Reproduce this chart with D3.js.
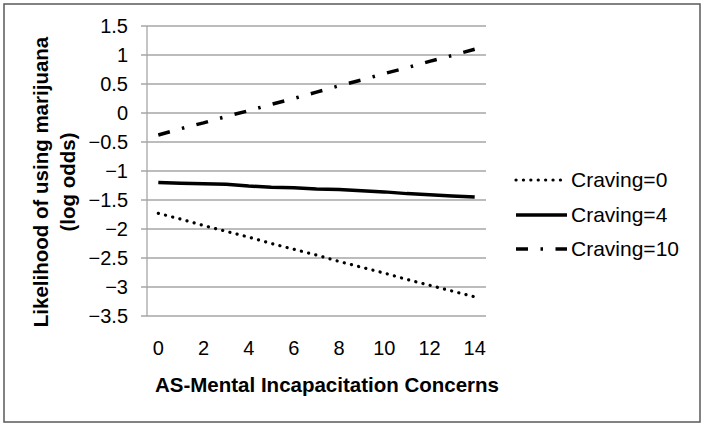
<!DOCTYPE html>
<html><head><meta charset="utf-8">
<script src="https://cdn.jsdelivr.net/npm/d3@7"></script>
<style>
html,body{margin:0;padding:0;background:#fff;}
svg text{font-family:"Liberation Sans",Arial,sans-serif;fill:#000;}
</style></head>
<body><svg id="c" width="705" height="427"></svg>
<script>
const xCategories = [0,1,2,3,4,5,6,7,8,9,10,11,12,13,14];
const xTickLabels = [0,2,4,6,8,10,12,14];
const yTicks = [1.5,1,0.5,0,-0.5,-1,-1.5,-2,-2.5,-3,-3.5];
const seriesNames = ["Craving=0","Craving=4","Craving=10"];
const craving0 = [-1.73,-1.83,-1.94,-2.04,-2.14,-2.25,-2.35,-2.45,-2.56,-2.66,-2.76,-2.87,-2.97,-3.07,-3.17];
const craving4 = [-1.20,-1.21,-1.22,-1.23,-1.26,-1.28,-1.29,-1.31,-1.32,-1.34,-1.36,-1.39,-1.41,-1.43,-1.45];
const craving10 = [-0.38,-0.27,-0.17,-0.06,0.04,0.15,0.25,0.36,0.47,0.57,0.68,0.78,0.89,0.99,1.10];
const xTitle = "AS-Mental Incapacitation Concerns";
const yTitle = ["Likelihood of using marijuana","(log odds)"];

const svg = d3.select("#c");
const L = 147, R = 486, T = 26, B = 316;

svg.append("rect").attr("x",4).attr("y",4).attr("width",696).attr("height",418)
  .attr("fill","#fff").attr("stroke","#595959").attr("stroke-width",1.5);

const x = d3.scalePoint().domain(xCategories).range([L,R]).padding(0.5);
const y = d3.scaleLinear().domain([-3.5,1.5]).range([B,T]);

// gridlines
svg.append("g").selectAll("line").data(yTicks).join("line")
  .attr("x1",L-6).attr("x2",R).attr("y1",d=>y(d)).attr("y2",d=>y(d))
  .attr("stroke","#a6a6a6").attr("stroke-width",1.3);
// y axis line
svg.append("line").attr("x1",L).attr("x2",L).attr("y1",T).attr("y2",B)
  .attr("stroke","#a6a6a6").attr("stroke-width",1.3);

// y tick labels
svg.append("g").selectAll("text").data(yTicks).join("text")
  .attr("x",128).attr("y",d=>y(d)).attr("dy","0.35em").attr("text-anchor","end")
  .attr("font-size",20).text(d=>d3.format("")(d));

// x tick labels
svg.append("g").selectAll("text").data(xTickLabels).join("text")
  .attr("x",d=>x(d)).attr("y",355).attr("text-anchor","middle")
  .attr("font-size",20).text(d=>d);

// titles
svg.append("text").attr("x",327).attr("y",392).attr("text-anchor","middle")
  .attr("font-size",20.5).attr("font-weight","bold").text(xTitle);
const yt = svg.append("text").attr("transform","translate(48,182) rotate(-90)")
  .attr("text-anchor","middle").attr("font-size",20.5).attr("font-weight","bold");
yt.append("tspan").attr("x",0).attr("y",0).text(yTitle[0]);
yt.append("tspan").attr("x",0).attr("y",27).text(yTitle[1]);

const styles = [
  {dash:"0.1,7.3", cap:"round", w:3.2},
  {dash:null, cap:"butt", w:3.5},
  {dash:"12,12.5,2.5,12.5", cap:"butt", w:3.5}
];
const data = [craving0, craving4, craving10];
const line = d3.line().x((d,i)=>x(xCategories[i])).y(d=>y(d));
data.forEach((s,k)=>{
  svg.append("path").datum(s).attr("d",line).attr("fill","none")
    .attr("stroke","#000").attr("stroke-width",styles[k].w)
    .attr("stroke-linecap",styles[k].cap)
    .attr("stroke-dasharray",styles[k].dash);
});

// legend
const ly = [180,215,249];
seriesNames.forEach((n,k)=>{
  const g = svg.append("g");
  g.append("line").attr("x1",516).attr("x2",567).attr("y1",ly[k]).attr("y2",ly[k])
    .attr("stroke","#000").attr("stroke-width",styles[k].w)
    .attr("stroke-linecap",styles[k].cap)
    .attr("stroke-dasharray",styles[k].dash);
  g.append("text").attr("x",571).attr("y",ly[k]).attr("dy","0.35em")
    .attr("font-size",21).text(n);
});
</script></body></html>
